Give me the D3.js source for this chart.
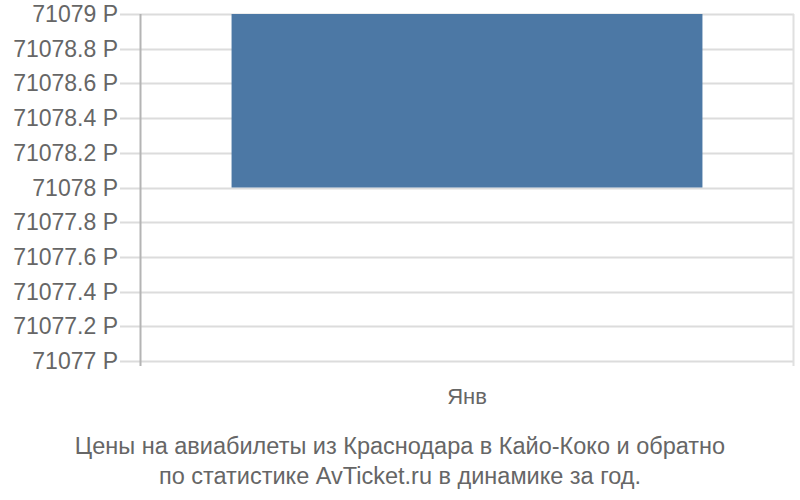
<!DOCTYPE html>
<html>
<head>
<meta charset="utf-8">
<script src="https://cdn.jsdelivr.net/npm/d3@7"></script>
<style>
  body { margin: 0; background: #fff; }
  text { font-family: "Liberation Sans", Arial, sans-serif; }
</style>
</head>
<body>
<svg width="800" height="500"></svg>
<script>
// chart data
var months = ["Янв"];
var lowValues = [71078];
var highValues = [71079];
var yTicks = [71077, 71077.2, 71077.4, 71077.6, 71077.8, 71078, 71078.2, 71078.4, 71078.6, 71078.8, 71079];
var titleLines = ["Цены на авиабилеты из Краснодара в Кайо-Коко и обратно",
                  "по статистике AvTicket.ru в динамике за год."];

var margin = {top: 14, right: 6, bottom: 139, left: 140},
    width = 800 - margin.left - margin.right,
    height = 500 - margin.top - margin.bottom;

var svg = d3.select("svg")
    .append("g")
    .attr("transform", "translate(" + margin.left + "," + margin.top + ")");

var x = d3.scaleBand()
    .domain(months)
    .range([0, width])
    .paddingInner(0.28)
    .paddingOuter(0.14);

var y = d3.scaleLinear()
    .domain([71077, 71079])
    .range([347, 0]);

// grid lines + ticks
svg.selectAll(".grid")
    .data(yTicks)
    .enter().append("line")
    .attr("x1", -20)
    .attr("x2", width)
    .attr("y1", d => Math.round(y(d)) + 0.5)
    .attr("y2", d => Math.round(y(d)) + 0.5)
    .style("stroke", "#dcdcdc")
    .style("stroke-width", "2px");

svg.selectAll(".ylab")
    .data(yTicks)
    .enter().append("text")
    .attr("x", -22)
    .attr("y", d => y(d))
    .attr("dy", "0.35em")
    .attr("text-anchor", "end")
    .style("font-size", "23px")
    .style("fill", "#666")
    .text(d => d + " Р");

// bars
svg.selectAll(".bar")
    .data(months)
    .enter().append("rect")
    .attr("x", d => x(d))
    .attr("width", x.bandwidth())
    .attr("y", (d, i) => y(highValues[i]))
    .attr("height", (d, i) => y(lowValues[i]) - y(highValues[i]))
    .style("fill", "#4c78a5");

// axis lines
svg.append("line")
    .attr("x1", 0.5).attr("x2", 0.5)
    .attr("y1", 0).attr("y2", height + 5)
    .style("stroke", "#b4b4b4").style("stroke-width", "2px");
svg.append("line")
    .attr("x1", width - 0.5).attr("x2", width - 0.5)
    .attr("y1", 0).attr("y2", height + 5)
    .style("stroke", "#e0e0e0").style("stroke-width", "2px");

// x labels
svg.selectAll(".xlab")
    .data(months)
    .enter().append("text")
    .attr("x", d => x(d) + x.bandwidth() / 2)
    .attr("y", 390)
    .attr("text-anchor", "middle")
    .style("font-size", "22px")
    .style("fill", "#666")
    .text(d => d);

// title
d3.select("svg").selectAll(".title")
    .data(titleLines)
    .enter().append("text")
    .attr("x", 400)
    .attr("y", (d, i) => 454 + i * 30)
    .attr("text-anchor", "middle")
    .style("font-size", "23.5px")
    .style("fill", "#666")
    .text(d => d);
</script>
</body>
</html>
